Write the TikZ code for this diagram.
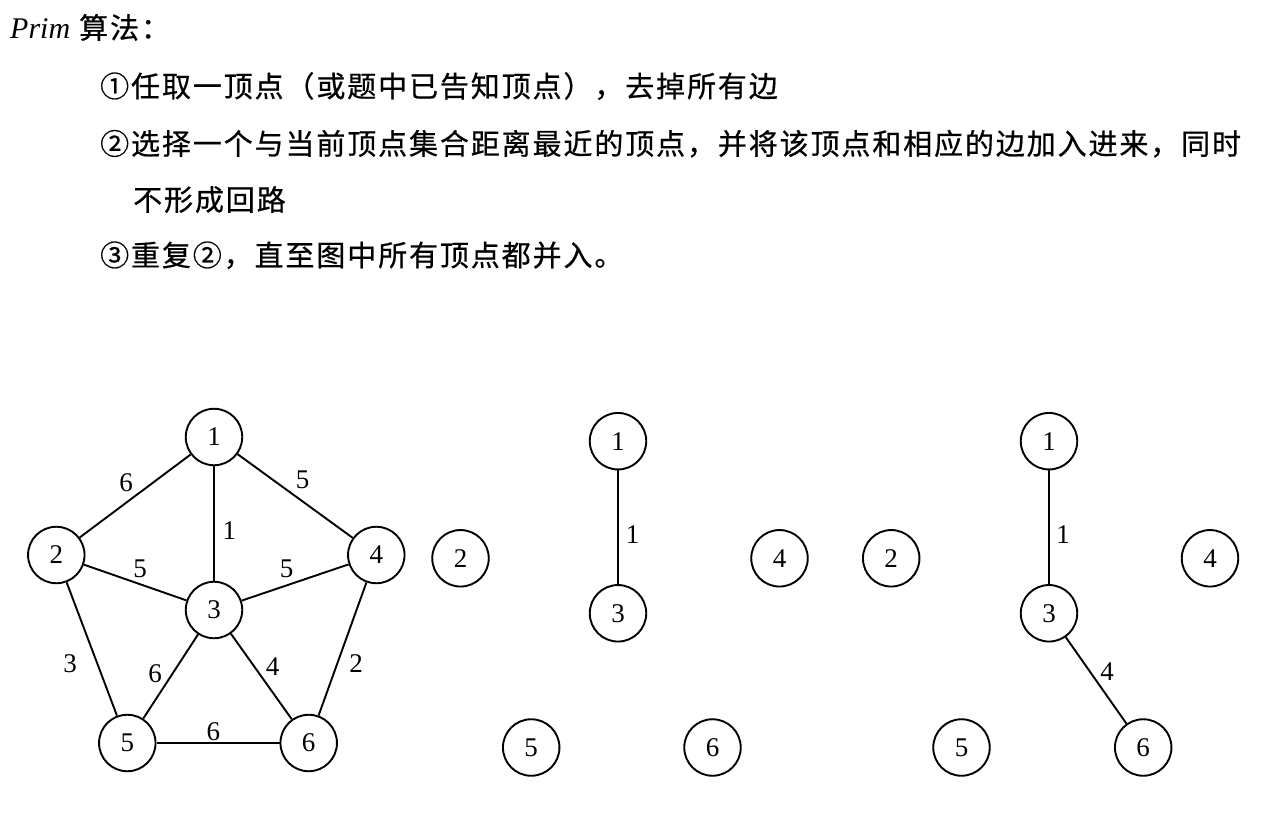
\documentclass[tikz,border=0pt]{standalone}
\usepackage{fontspec}
\setmainfont{Liberation Serif}
\newfontfamily\cjk[LetterSpace=6.5,FakeBold=0.6]{Noto Sans CJK SC}
\begin{document}
\begin{tikzpicture}[x=1pt,y=-1pt,
  vtx/.style={circle,draw,line width=1.9pt,minimum size=56.5pt,inner sep=0pt,font=\fontsize{27}{27}\selectfont},
  wt/.style={font=\fontsize{27}{27}\selectfont,inner sep=0pt},
  edge/.style={line width=1.9pt},
  txt/.style={anchor=base west,inner sep=0pt,font=\cjk\fontsize{29}{34}\selectfont}]
\useasboundingbox (0,0) rectangle (1270,832);

% text
\node[txt] (title) at (10,38.5) {{\fontspec{Liberation Serif}\fontsize{30}{34}\selectfont\itshape Prim}\hspace{9pt}算法：};
\node[txt] (s1) at (100,97) {①任取一顶点（或题中已告知顶点），去掉所有边};
\node[txt] (s2) at (100,154.5) {②选择一个与当前顶点集合距离最近的顶点，并将该顶点和相应的边加入进来，同时};
\node[txt] (s2b) at (133,210.5) {不形成回路};
\node[txt] (s3) at (100,266) {③重复②，直至图中所有顶点都并入。};

% graph 1
\node[vtx] (a1) at (214,437) {1};
\node[vtx] (a2) at (56.3,555) {2};
\node[vtx] (a4) at (376.3,555) {4};
\node[vtx] (a3) at (214,610) {3};
\node[vtx] (a5) at (127.3,743) {5};
\node[vtx] (a6) at (308.7,743) {6};
\draw[edge] (a1) -- (a2);
\draw[edge] (a1) -- (a3);
\draw[edge] (a1) -- (a4);
\draw[edge] (a2) -- (a3);
\draw[edge] (a3) -- (a4);
\draw[edge] (a2) -- (a5);
\draw[edge] (a3) -- (a5);
\draw[edge] (a3) -- (a6);
\draw[edge] (a4) -- (a6);
\draw[edge] (a5) -- (a6);
\node[wt] (w12) at (126,483) {6};
\node[wt] (w14) at (302.7,480) {5};
\node[wt] (w13) at (229.3,531) {1};
\node[wt] (w23) at (140,568.3) {5};
\node[wt] (w34) at (286.7,568.3) {5};
\node[wt] (w25) at (70,663.3) {3};
\node[wt] (w35) at (155,673.3) {6};
\node[wt] (w36) at (272.7,666.7) {4};
\node[wt] (w46) at (356,663.3) {2};
\node[wt] (w56) at (213.3,731.7) {6};

% graph 2
\node[vtx] (b1) at (618,441.2) {1};
\node[vtx] (b2) at (460.5,558.3) {2};
\node[vtx] (b4) at (779.5,558.3) {4};
\node[vtx] (b3) at (618,613.3) {3};
\node[vtx] (b5) at (531.2,747.5) {5};
\node[vtx] (b6) at (712.5,747.5) {6};
\draw[edge] (b1) -- (b3);
\node[wt] (v13) at (632.7,535) {1};

% graph 3
\node[vtx] (c1) at (1049,441.2) {1};
\node[vtx] (c2) at (891.2,558.3) {2};
\node[vtx] (c4) at (1210,558.3) {4};
\node[vtx] (c3) at (1049,613.3) {3};
\node[vtx] (c5) at (961.5,747.5) {5};
\node[vtx] (c6) at (1143.2,747.5) {6};
\draw[edge] (c1) -- (c3);
\draw[edge] (c3) -- (c6);
\node[wt] (u13) at (1063,535) {1};
\node[wt] (u36) at (1107,672) {4};
\end{tikzpicture}
\end{document}
